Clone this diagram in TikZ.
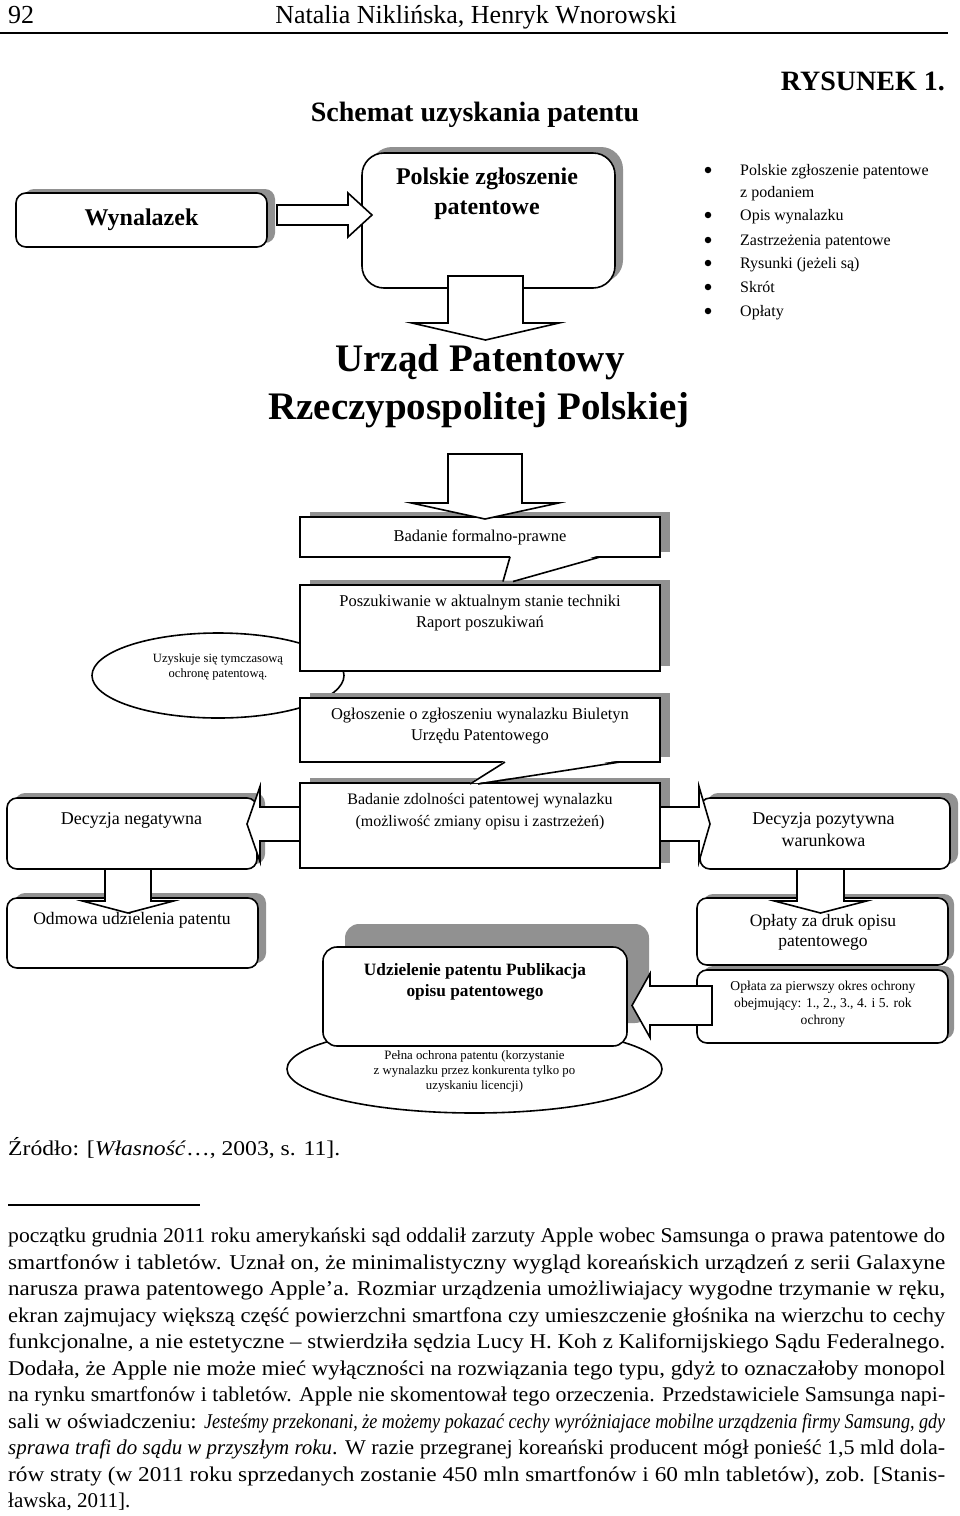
\documentclass[tikz,border=0pt]{standalone}
\usepackage{fontspec}
\usepackage{graphicx}
\setmainfont{Liberation Serif}
\usetikzlibrary{calc,shadows,shapes.geometric}
\definecolor{shgray}{RGB}{145,145,145}
\newcommand{\arrowR}[5]{\draw[blk] ($(#1)+(0,-#3)$) -- ($(#2)+(-#5,-#3)$) -- ($(#2)+(-#5,-#4)$) -- (#2) -- ($(#2)+(-#5,#4)$) -- ($(#2)+(-#5,#3)$) -- ($(#1)+(0,#3)$) -- cycle;}
\newcommand{\arrowL}[5]{\draw[blk] ($(#1)+(0,-#3)$) -- ($(#2)+(#5,-#3)$) -- ($(#2)+(#5,-#4)$) -- (#2) -- ($(#2)+(#5,#4)$) -- ($(#2)+(#5,#3)$) -- ($(#1)+(0,#3)$) -- cycle;}
\newcommand{\arrowD}[5]{\draw[blk] ($(#1)+(-#3,0)$) -- ($(#2)+(-#3,-#5)$) -- ($(#2)+(-#4,-#5)$) -- (#2) -- ($(#2)+(#4,-#5)$) -- ($(#2)+(#3,-#5)$) -- ($(#1)+(#3,0)$) -- cycle;}
\newcommand{\fitline}[1]{\resizebox{937pt}{\height}{#1}}
\begin{document}
\begin{tikzpicture}[x=1pt,y=-1pt,
  blk/.style={draw=black,line width=1.6pt,fill=white,line join=miter},
  bx/.style 2 args={draw=black,line width=1.6pt,fill=white,inner sep=0pt,
     general shadow={fill=shgray,shadow xshift=#1,shadow yshift=#2}},
  txt/.style={inner sep=0pt,align=center},
  bodyl/.style={inner sep=0pt,anchor=base west,font=\fontsize{21}{26}\selectfont},
  bul/.style={inner sep=0pt,anchor=base west,font=\fontsize{16}{20}\selectfont},
  dot/.style={circle,fill=black,inner sep=0pt,minimum size=6.5pt},
  ell/.style={draw=black,line width=1.6pt,fill=white,ellipse,inner sep=0pt}]
\useasboundingbox (0,0) rectangle (960,1516);
\fill[white] (0,0) rectangle (960,1516);
% header
\node[inner sep=0pt,anchor=base west,font=\fontsize{26}{30}\selectfont] (pg) at (8,23) {92};
\node[inner sep=0pt,anchor=base,font=\fontsize{26}{30}\selectfont] (auth) at (476,23) {Natalia Niklińska, Henryk Wnorowski};
\draw[line width=2pt] (0,33) -- (948,33);
\node[inner sep=0pt,anchor=base east,font=\fontsize{28}{32}\selectfont\bfseries] (rys) at (945,90) {RYSUNEK 1.};
\node[inner sep=0pt,anchor=base,font=\fontsize{28}{32}\selectfont\bfseries] (tit) at (475,121) {Schemat uzyskania patentu};
% top row
\node[bx={8pt}{4pt},rounded corners=10pt,minimum width=251pt,minimum height=54pt,font=\fontsize{24}{28}\selectfont\bfseries] (wyn) at (141.5,220) {Wynalazek};
\node[bx={8pt}{6pt},rounded corners=22pt,minimum width=253pt,minimum height=135pt] (pzp) at (488.5,220.5) {};
\node[txt,font=\fontsize{24}{30}\selectfont\bfseries] (pzptxt) at (487,194) {Polskie zgłoszenie\\patentowe};
\coordinate (a1s) at (277,215); \coordinate (a1t) at (372,215);
\arrowR{a1s}{a1t}{10}{22}{24}
\coordinate (a2s) at (485.5,276); \coordinate (a2t) at (485.5,340);
\arrowD{a2s}{a2t}{37.5}{73.5}{17}
\node[inner sep=0pt,font=\fontsize{39}{44}\selectfont\bfseries] (urz1) at (480,362) {Urząd Patentowy};
\node[inner sep=0pt,font=\fontsize{39}{44}\selectfont\bfseries] (urz2) at (479,410) {Rzeczypospolitej Polskiej};
% bullets
\foreach \yy/\tt/\bb [count=\i] in {170/{Polskie zgłoszenie patentowe}/1,192/{z podaniem}/0,215/{Opis wynalazku}/1,240/{Zastrzeżenia patentowe}/1,263/{Rysunki (jeżeli są)}/1,287/{Skrót}/1,311/{Opłaty}/1}{
  \node[bul] (li\i) at (740,\yy+5.5) {\tt};
  \ifnum\bb=1 \node[dot] (bu\i) at (708,\yy) {};\fi
}
% middle column
\node[bx={10pt}{5pt},minimum width=360pt,minimum height=40pt,font=\fontsize{16.5}{20}\selectfont] (bf) at (480,537) {Badanie formalno-prawne};
\coordinate (a3s) at (485,454); \coordinate (a3t) at (485,519);
\arrowD{a3s}{a3t}{37}{73.5}{16}
\node[ell,minimum width=252pt,minimum height=85pt] (ell1) at (218,675.5) {};
\node[txt,font=\fontsize{12.6}{15}\selectfont] (ell1t) at (218,667) {Uzyskuje się tymczasową\\ochronę patentową.};
\node[bx={10pt}{5pt},minimum width=360pt,minimum height=86pt] (pos) at (480,628) {};
\node[txt,font=\fontsize{16.5}{21}\selectfont] (post) at (480,613) {Poszukiwanie w aktualnym stanie techniki\\Raport poszukiwań};
\fill[white] (510.5,555.6) -- (598,555.6) -- (513,580.5) -- (503.5,580.5) -- cycle;
\draw[line width=1.6pt] (510,557) -- (503,581.5);
\draw[line width=1.6pt] (600,557) -- (513,581.5);
\node[bx={10pt}{5pt},minimum width=360pt,minimum height=64pt] (ogl) at (480,730) {};
\node[txt,font=\fontsize{16.5}{21}\selectfont] (oglt) at (480,726) {Ogłoszenie o zgłoszeniu wynalazku Biuletyn\\Urzędu Patentowego};
% decision row
\node[bx={10pt}{5pt},minimum width=360pt,minimum height=85pt] (bz) at (480,825.5) {};
\node[txt,font=\fontsize{16}{22}\selectfont] (bzt) at (480,811.5) {Badanie zdolności patentowej wynalazku\\(możliwość zmiany opisu i zastrzeżeń)};
\fill[white] (505,760.6) -- (618,760.6) -- (478,783) -- (470,783) -- cycle;
\draw[line width=1.6pt] (505,762) -- (470,784);
\draw[line width=1.6pt] (620,762) -- (478,784);
\node[bx={8pt}{5pt},rounded corners=10pt,minimum width=250pt,minimum height=71pt] (dn) at (132,833.5) {};
\node[inner sep=0pt,font=\fontsize{18}{22}\selectfont] (dnt) at (131.5,820) {Decyzja negatywna};
\node[bx={8pt}{5pt},rounded corners=10pt,minimum width=250pt,minimum height=71pt] (dp) at (825,833.5) {};
\node[txt,font=\fontsize{18}{22}\selectfont] (dpt) at (823.5,830) {Decyzja pozytywna\\warunkowa};
\coordinate (a4s) at (300,824); \coordinate (a4t) at (247,824);
\arrowL{a4s}{a4t}{17}{37.5}{13}
\coordinate (a5s) at (660,824); \coordinate (a5t) at (710,824);
\arrowR{a5s}{a5t}{17}{37.5}{11}
% lower row
\node[bx={8pt}{5pt},rounded corners=10pt,minimum width=251pt,minimum height=70pt] (odm) at (132.5,933) {};
\node[inner sep=0pt,font=\fontsize{17.6}{21}\selectfont] (odmt) at (132,920) {Odmowa udzielenia patentu};
\coordinate (a6s) at (128,869); \coordinate (a6t) at (128,913);
\arrowD{a6s}{a6t}{23}{45.5}{12}
\node[bx={6pt}{4pt},rounded corners=10pt,minimum width=251pt,minimum height=67pt] (op1) at (822.5,931.5) {};
\node[txt,font=\fontsize{17.5}{20}\selectfont] (op1t) at (823,932) {Opłaty za druk opisu\\patentowego};
\node[bx={6pt}{4pt},rounded corners=10pt,minimum width=251pt,minimum height=73pt] (op2) at (822.5,1006.5) {};
\node[txt,font=\fontsize{13.6}{17}\selectfont] (op2t) at (823,1004) {Opłata za pierwszy okres ochrony\\obejmujący: 1., 2., 3., 4. i 5. rok\\ochrony};
\coordinate (a7s) at (820.5,869); \coordinate (a7t) at (820.5,913);
\arrowD{a7s}{a7t}{23.5}{46}{12}
\node[ell,minimum width=375pt,minimum height=88pt] (ell2) at (474.5,1069) {};
\node[txt,font=\fontsize{12.8}{15}\selectfont] (ell2t) at (474.5,1071) {Pełna ochrona patentu (korzystanie\\z wynalazku przez konkurenta tylko po\\uzyskaniu licencji)};
\node[bx={22pt}{23pt},rounded corners=14pt,minimum width=304pt,minimum height=99pt] (udz) at (475,996.5) {};
\node[txt,font=\fontsize{17.3}{21}\selectfont\bfseries] (udzt) at (475,982) {Udzielenie patentu Publikacja\\opisu patentowego};
\coordinate (a8s) at (712,1005.5); \coordinate (a8t) at (632,1005.5);
\arrowL{a8s}{a8t}{19.5}{32}{18}
% footer
\node[inner sep=0pt,anchor=base west,font=\fontsize{21}{26}\selectfont] (src) at (8,1155) {\resizebox{332pt}{\height}{Źródło: [\textit{Własność}…, 2003, s. 11].}};
\draw[line width=1.3pt] (8,1205) -- (200,1205);
\node[bodyl] (b1) at (8,1242.5) {\fitline{początku grudnia 2011 roku amerykański sąd oddalił zarzuty Apple wobec Samsunga o prawa patentowe do}};
\node[bodyl] (b2) at (8,1269) {\fitline{smartfonów i tabletów. Uznał on, że minimalistyczny wygląd koreańskich urządzeń z serii Galaxyne}};
\node[bodyl] (b3) at (8,1295.5) {\fitline{narusza prawa patentowego Apple’a. Rozmiar urządzenia umożliwiajacy wygodne trzymanie w ręku,}};
\node[bodyl] (b4) at (8,1322) {\fitline{ekran zajmujacy większą część powierzchni smartfona czy umieszczenie głośnika na wierzchu to cechy}};
\node[bodyl] (b5) at (8,1348.5) {\fitline{funkcjonalne, a nie estetyczne – stwierdziła sędzia Lucy H. Koh z Kalifornijskiego Sądu Federalnego.}};
\node[bodyl] (b6) at (8,1375) {\fitline{Dodała, że Apple nie może mieć wyłączności na rozwiązania tego typu, gdyż to oznaczałoby monopol}};
\node[bodyl] (b7) at (8,1401.5) {\fitline{na rynku smartfonów i tabletów. Apple nie skomentował tego orzeczenia. Przedstawiciele Samsunga napi-}};
\node[bodyl] (b8) at (8,1428) {\fitline{sali w oświadczeniu: \scalebox{0.8}[1]{\textit{Jesteśmy przekonani, że możemy pokazać cechy wyróżniajace mobilne urządzenia firmy Samsung, gdy}}}};
\node[bodyl] (b9) at (8,1454.5) {\fitline{\scalebox{0.95}[1]{\textit{sprawa trafi do sądu w przyszłym roku}}. W razie przegranej koreański producent mógł ponieść 1,5 mld dola-}};
\node[bodyl] (b10) at (8,1481) {\fitline{rów straty (w 2011 roku sprzedanych zostanie 450 mln smartfonów i 60 mln tabletów), zob. [Stanis-}};
\node[bodyl] (b11) at (8,1507.5) {ławska, 2011].};
\end{tikzpicture}
\end{document}
